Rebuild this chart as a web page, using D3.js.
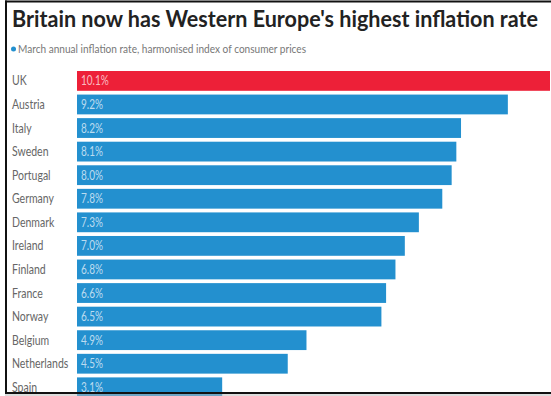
<!DOCTYPE html>
<html>
<head>
<meta charset="utf-8">
<script src="https://cdn.jsdelivr.net/npm/d3@7"></script>
<style>
  body { margin: 0; background: #fff; }
  svg { display: block; }
</style>
</head>
<body>
<svg id="chart"></svg>
<script>
// data
const countries = ["UK", "Austria", "Italy", "Sweden", "Portugal", "Germany", "Denmark",
                   "Ireland", "Finland", "France", "Norway", "Belgium", "Netherlands", "Spain"];
const rates = [10.1, 9.2, 8.2, 8.1, 8.0, 7.8, 7.3, 7.0, 6.8, 6.6, 6.5, 4.9, 4.5, 3.1];
const highlight = ["UK"];

const W = 551, H = 396;
const margin = {top: 71, left: 77, bottom: 3};

const svg = d3.select("#chart")
    .attr("width", W)
    .attr("height", H)
    .style("font-family", "Lato, 'Open Sans', sans-serif");

const data = countries.map((c, i) => ({country: c, rate: rates[i]}));

// x: about 46.8px per percentage point
const x = d3.scaleLinear().domain([0, 10.1]).range([margin.left, margin.left + 473]);
const y = d3.scaleBand()
    .domain(countries)
    .range([margin.top, margin.top + 23.3 * countries.length])
    .paddingInner(0.16)
    .paddingOuter(0.0);

// squeeze text a bit, the original font is a condensed one
function condense(sel, k) {
  sel.each(function() {
    const w = this.getComputedTextLength();
    d3.select(this).attr("textLength", w * k).attr("lengthAdjust", "spacingAndGlyphs");
  });
}

// title: drawn at full size then scaled across to the width in the picture
const titleG = svg.append("g");
const title = titleG.append("text")
    .attr("x", 0)
    .attr("y", 0)
    .attr("fill", "#222")
    .style("font-weight", "bold")
    .style("font-size", "23.5px")
    .text("Britain now has Western Europe's highest inflation rate");
const kx = 526 / title.node().getComputedTextLength();
titleG.attr("transform", `translate(12,27) scale(${kx},1)`);

// subtitle with dot
svg.append("circle")
    .attr("cx", 13.5).attr("cy", 49).attr("r", 2.5)
    .attr("fill", "#2390cf");
svg.append("text")
    .attr("x", 18)
    .attr("y", 52.5)
    .attr("fill", "#777")
    .style("font-size", "11px")
    .attr("textLength", 288)
    .attr("lengthAdjust", "spacingAndGlyphs")
    .text("March annual inflation rate, harmonised index of consumer prices");

// bars
const rows = svg.append("g").attr("class", "bars");
rows.selectAll("rect")
  .data(data)
  .join("rect")
    .attr("x", x(0))
    .attr("y", d => y(d.country))
    .attr("width", d => x(d.rate) - x(0))
    .attr("height", y.bandwidth())
    .attr("fill", d => highlight.includes(d.country) ? "#ed2038" : "#2390cf");

// value labels inside bars
rows.selectAll("text.val")
  .data(data)
  .join("text")
    .attr("class", "val")
    .attr("x", x(0) + 4)
    .attr("y", d => y(d.country) + y.bandwidth() / 2)
    .attr("dy", "0.36em")
    .attr("fill", "#fff")
    .attr("fill-opacity", 0.7)
    .style("font-size", "12.5px")
    .text(d => d.rate.toFixed(1) + "%")
    .call(condense, 0.8);

// country names
svg.append("g").selectAll("text")
  .data(data)
  .join("text")
    .attr("x", 12)
    .attr("y", d => y(d.country) + y.bandwidth() / 2)
    .attr("dy", "0.36em")
    .attr("fill", "#666")
    .style("font-size", "12.5px")
    .text(d => d.country)
    .call(condense, 0.84);

// frame lines
svg.append("line").attr("x1", 6).attr("x2", 6).attr("y1", 0.5).attr("y2", 394)
    .attr("stroke", "#111").attr("stroke-width", 2);
svg.append("line").attr("x1", 5).attr("x2", W).attr("y1", 1.5).attr("y2", 1.5)
    .attr("stroke", "#111").attr("stroke-width", 2);
svg.append("line").attr("x1", 5).attr("x2", W).attr("y1", 393).attr("y2", 393)
    .attr("stroke", "#111").attr("stroke-width", 2);
svg.append("line").attr("x1", 5).attr("x2", W).attr("y1", 395).attr("y2", 395)
    .attr("stroke", "#bbb").attr("stroke-width", 1);
</script>
</body>
</html>
